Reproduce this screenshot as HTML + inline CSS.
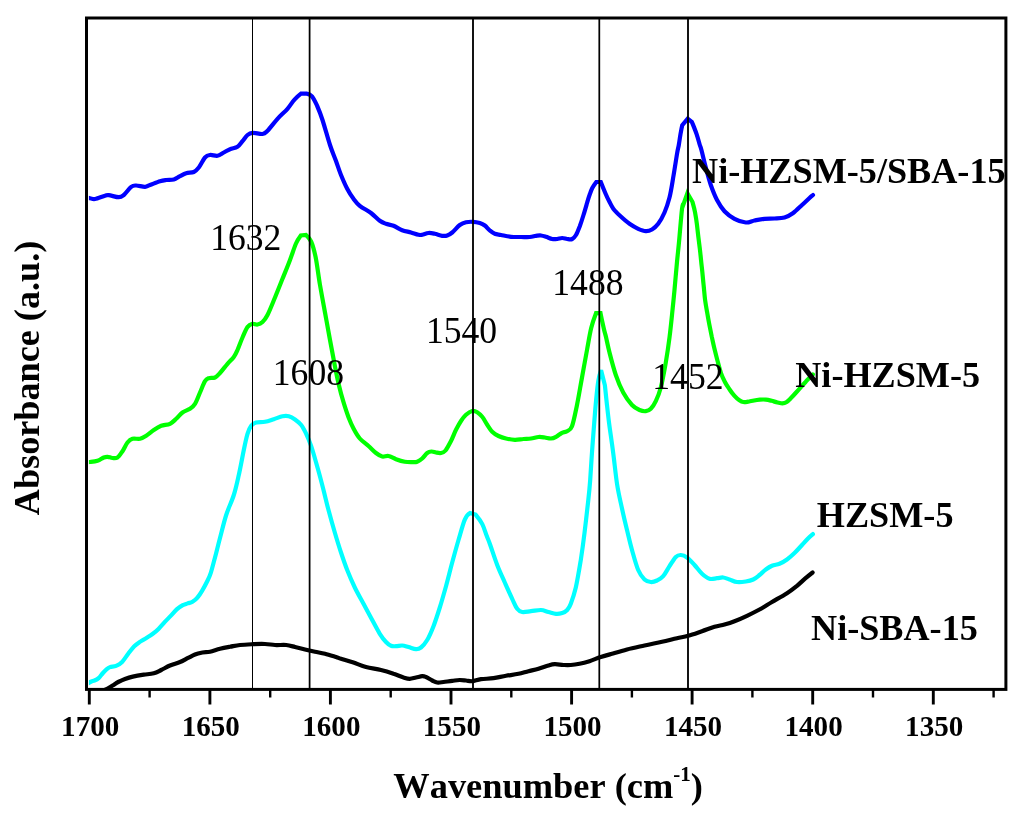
<!DOCTYPE html>
<html><head><meta charset="utf-8"><title>FTIR</title>
<style>
html,body{margin:0;padding:0;background:#fff;}
svg{display:block;will-change:transform;}
text{font-family:"Liberation Serif",serif;fill:#000;font-kerning:none;font-variant-ligatures:none;}
.b{font-weight:bold;}
</style></head><body>
<svg width="1024" height="824" viewBox="0 0 1024 824">
<rect width="1024" height="824" fill="#fff"/>
<defs><clipPath id="cp"><rect x="88.9" y="19.5" width="915.4" height="668.8"/></clipPath></defs>
<g clip-path="url(#cp)" fill="none" stroke-width="4.2" stroke-linecap="round" stroke-linejoin="miter" stroke-miterlimit="3.4">
<path stroke="#000" d="M101.0 692.0C102.2 691.3 106.5 689.1 108.5 688.0C110.5 686.9 111.4 686.3 113.0 685.3C114.6 684.3 116.2 683.0 118.2 682.0C120.2 681.0 122.6 679.9 125.0 679.0C127.4 678.1 129.7 677.3 132.8 676.6C135.9 675.9 140.3 675.2 143.8 674.7C147.3 674.2 150.9 674.1 153.8 673.3C156.7 672.5 158.5 671.3 161.2 670.0C163.9 668.7 166.9 666.8 170.0 665.5C173.1 664.2 177.1 663.2 180.0 662.0C182.9 660.8 185.0 659.5 187.5 658.2C190.0 657.0 192.5 655.5 195.0 654.5C197.5 653.5 200.0 653.0 202.5 652.5C205.0 652.0 207.1 652.4 210.0 651.8C212.9 651.2 216.7 649.6 220.0 648.8C223.3 648.0 226.7 647.4 230.0 646.8C233.3 646.2 236.2 645.4 240.0 645.0C243.8 644.6 248.3 644.4 252.5 644.2C256.7 644.0 261.2 643.9 265.0 644.0C268.8 644.1 271.5 644.8 275.0 645.0C278.5 645.2 282.9 644.7 286.2 645.0C289.5 645.3 291.9 646.2 295.0 647.0C298.1 647.8 301.7 648.7 305.0 649.5C308.3 650.3 311.7 651.1 315.0 651.8C318.3 652.5 321.5 652.9 325.0 653.8C328.5 654.7 333.3 656.2 336.0 657.0C338.7 657.8 338.1 657.9 341.0 658.8C343.9 659.7 349.3 661.1 353.5 662.5C357.7 663.9 361.4 665.8 366.0 667.0C370.6 668.2 376.4 668.9 381.0 670.0C385.6 671.1 389.8 672.5 393.5 673.8C397.2 675.0 400.8 676.7 403.5 677.5C406.2 678.3 407.7 678.8 409.8 678.8C411.9 678.8 413.9 677.9 416.0 677.5C418.1 677.1 420.5 676.3 422.2 676.2C423.9 676.1 424.3 676.3 426.0 677.0C427.7 677.7 430.3 679.6 432.2 680.5C434.1 681.4 435.3 682.2 437.2 682.5C439.1 682.8 441.0 682.3 443.5 682.0C446.0 681.7 449.5 681.1 452.2 680.8C454.9 680.5 457.5 680.0 459.8 680.0C462.1 680.0 463.9 680.3 466.0 680.5C468.1 680.7 469.7 681.4 472.2 681.2C474.7 681.0 477.4 679.7 481.0 679.2C484.6 678.7 489.3 678.8 493.5 678.2C497.7 677.6 501.8 676.5 506.0 675.8C510.2 675.1 514.8 674.6 518.5 673.8C522.2 673.0 525.2 672.0 528.5 671.2C531.8 670.4 535.2 669.8 538.5 668.8C541.8 667.8 545.8 666.3 548.5 665.5C551.2 664.7 552.3 664.3 554.8 664.2C557.3 664.1 560.8 664.9 563.5 665.0C566.2 665.1 568.1 665.2 570.8 665.0C573.5 664.8 576.4 664.4 579.5 663.8C582.6 663.2 586.0 662.3 589.5 661.2C593.0 660.1 597.0 658.2 600.8 657.0C604.5 655.8 607.6 655.0 612.0 653.8C616.4 652.5 621.6 650.9 627.0 649.5C632.4 648.1 638.7 646.8 644.5 645.5C650.3 644.2 656.6 643.0 662.0 641.8C667.4 640.6 672.6 639.2 677.0 638.2C681.4 637.2 684.0 637.0 688.2 635.8C692.4 634.6 697.6 632.7 702.0 631.2C706.4 629.7 710.8 627.9 714.5 626.8C718.2 625.7 721.2 625.4 724.5 624.5C727.8 623.6 730.8 622.7 734.5 621.2C738.2 619.8 742.8 617.8 747.0 615.8C751.2 613.8 755.3 611.8 759.5 609.5C763.7 607.2 767.4 604.7 772.0 602.0C776.6 599.3 782.8 595.9 787.0 593.2C791.2 590.5 794.0 588.2 797.0 585.8C800.0 583.4 802.4 580.9 805.0 578.7C807.6 576.5 811.3 573.5 812.6 572.5"/>
<path stroke="#00ffff" d="M85.0 685.0C85.9 684.5 88.7 682.8 90.3 682.0C91.9 681.2 93.1 681.1 94.5 680.5C95.9 679.9 97.3 679.3 98.6 678.1C99.9 676.9 101.2 675.0 102.5 673.5C103.8 672.0 105.2 670.4 106.5 669.3C107.8 668.2 108.4 667.7 110.0 667.1C111.6 666.5 114.1 666.8 116.1 665.9C118.1 665.0 120.1 663.9 122.1 661.9C124.1 659.9 126.2 656.3 128.2 653.7C130.2 651.1 132.3 648.2 134.3 646.2C136.3 644.2 138.3 643.0 140.3 641.6C142.3 640.2 144.4 639.3 146.4 638.0C148.4 636.7 150.5 635.5 152.5 634.0C154.5 632.5 156.5 630.9 158.5 628.9C160.5 626.9 162.6 624.4 164.6 622.2C166.6 620.0 168.7 618.0 170.7 615.9C172.7 613.8 174.7 611.2 176.7 609.4C178.7 607.6 181.0 606.2 182.8 605.2C184.6 604.2 186.1 604.0 187.7 603.4C189.3 602.8 190.9 602.8 192.5 601.8C194.1 600.8 195.8 599.6 197.4 597.7C199.0 595.8 200.6 593.3 202.2 590.6C203.8 587.9 205.7 584.4 207.1 581.5C208.5 578.6 209.4 577.2 210.7 573.2C212.0 569.2 213.4 563.4 215.0 557.5C216.6 551.6 218.1 545.1 220.0 538.0C221.9 530.9 223.9 522.2 226.2 515.0C228.5 507.8 231.7 501.7 233.8 495.0C235.9 488.3 237.1 482.5 238.8 475.0C240.5 467.5 242.4 456.9 243.8 450.0C245.2 443.1 246.3 437.8 247.5 433.8C248.7 429.8 249.8 427.7 251.2 425.8C252.6 423.9 253.9 423.2 256.2 422.5C258.5 421.8 262.1 422.4 265.0 421.8C267.9 421.2 270.9 420.1 273.8 419.2C276.7 418.3 280.0 416.7 282.5 416.2C285.0 415.7 286.7 415.6 288.8 416.2C290.9 416.8 292.9 418.0 295.0 419.5C297.1 421.0 299.3 422.6 301.2 425.0C303.1 427.4 304.5 430.3 306.2 433.8C307.9 437.3 309.3 440.6 311.2 446.2C313.1 451.8 315.4 460.2 317.5 467.5C319.6 474.8 321.7 482.9 323.5 490.0C325.3 497.1 326.6 502.9 328.5 510.0C330.4 517.1 332.7 525.4 334.8 532.5C336.9 539.6 338.9 546.2 341.0 552.5C343.1 558.8 344.9 564.2 347.2 570.0C349.5 575.8 352.1 581.9 354.8 587.5C357.5 593.1 360.6 598.4 363.5 603.8C366.4 609.2 369.5 615.0 372.2 620.0C374.9 625.0 377.5 630.1 379.8 633.8C382.1 637.5 384.1 640.0 386.0 642.0C387.9 644.0 389.3 645.1 391.0 645.8C392.7 646.5 394.1 646.2 396.0 646.2C397.9 646.2 400.1 645.4 402.2 645.5C404.3 645.6 406.2 646.4 408.5 647.0C410.8 647.6 413.9 649.1 416.0 649.2C418.1 649.3 419.1 649.0 421.0 647.5C422.9 646.0 425.1 643.5 427.2 640.0C429.3 636.5 431.4 631.6 433.5 626.2C435.6 620.8 437.7 614.2 439.8 607.5C441.9 600.8 443.9 593.7 446.0 586.2C448.1 578.7 450.1 570.2 452.2 562.5C454.3 554.8 456.4 547.1 458.5 540.0C460.6 532.9 462.9 524.1 464.8 519.6C466.7 515.1 469.0 513.6 470.0 513.0L475.6 514.6C477.1 516.4 480.5 520.6 482.3 524.1C484.1 527.6 485.4 532.5 486.7 535.8C487.9 539.1 488.1 538.9 489.8 543.8C491.6 548.7 494.7 558.5 497.2 565.0C499.7 571.5 502.3 576.9 504.8 582.5C507.3 588.1 510.1 594.4 512.2 598.8C514.3 603.2 515.5 606.6 517.2 608.8C518.9 611.0 519.9 611.6 522.2 612.0C524.5 612.4 527.9 611.5 531.0 611.2C534.1 610.9 538.1 609.9 541.0 610.0C543.9 610.1 546.0 611.4 548.5 612.0C551.0 612.6 553.7 613.6 556.0 613.8C558.3 614.0 560.3 613.6 562.2 613.0C564.1 612.4 565.8 611.5 567.2 610.0C568.6 608.5 569.4 607.5 570.8 603.8C572.2 600.0 574.1 594.8 575.8 587.5C577.5 580.2 579.3 569.1 580.8 560.0C582.2 550.9 583.3 542.8 584.5 533.0C585.7 523.2 587.2 509.8 588.2 501.0C589.2 492.2 589.6 488.1 590.2 480.0C590.8 471.9 591.3 461.8 592.0 452.3C592.7 442.8 593.5 431.7 594.2 423.2C594.9 414.7 595.3 408.4 596.0 401.4C596.7 394.4 597.4 386.2 598.3 381.0C599.1 375.8 600.5 371.9 601.1 370.2L604.9 385.3C605.2 388.2 605.9 395.1 606.6 401.4C607.3 407.7 608.0 414.7 609.1 423.2C610.2 431.7 611.8 442.0 613.1 452.3C614.5 462.6 615.7 475.6 617.2 485.0C618.7 494.4 620.4 501.0 622.0 508.5C623.6 516.0 625.3 523.1 627.0 530.0C628.7 536.9 630.1 543.3 632.0 550.0C633.9 556.7 636.1 565.1 638.2 570.0C640.3 574.9 642.4 577.5 644.5 579.5C646.6 581.5 648.7 581.8 650.8 582.0C652.9 582.2 654.9 581.5 657.0 580.5C659.1 579.5 661.1 578.6 663.2 576.2C665.3 573.8 667.4 569.4 669.5 566.2C671.6 563.0 673.9 558.9 675.8 557.0C677.7 555.1 678.9 554.9 680.8 555.0C682.7 555.1 684.7 555.8 687.0 557.5C689.3 559.2 692.0 562.3 694.5 565.0C697.0 567.7 699.5 571.5 702.0 573.8C704.5 576.1 707.0 578.1 709.5 578.8C712.0 579.5 714.7 578.4 717.0 578.2C719.3 578.0 721.1 577.3 723.2 577.5C725.3 577.7 727.2 578.8 729.5 579.5C731.8 580.2 734.3 581.7 737.0 582.0C739.7 582.3 743.1 581.9 745.8 581.5C748.5 581.1 750.9 580.6 753.2 579.5C755.5 578.4 757.4 576.7 759.5 575.0C761.6 573.3 763.7 571.0 765.8 569.5C767.9 568.0 769.7 566.8 772.0 565.8C774.3 564.8 777.0 564.8 779.5 563.8C782.0 562.8 784.5 561.3 787.0 559.5C789.5 557.7 792.0 555.4 794.5 553.0C797.0 550.6 799.8 547.4 802.0 545.0C804.2 542.6 806.2 540.3 808.0 538.5C809.8 536.7 812.1 534.8 812.9 534.1"/>
<path stroke="#00ff00" d="M85.0 462.3C85.8 462.2 87.9 462.2 90.0 462.0C92.1 461.8 95.2 461.6 97.5 460.8C99.8 460.1 102.1 458.2 103.8 457.5C105.5 456.8 106.0 456.7 107.5 456.8C109.0 456.9 110.8 457.9 112.5 458.0C114.2 458.1 115.8 458.6 117.5 457.5C119.2 456.4 120.8 453.7 122.5 451.2C124.2 448.7 125.8 444.6 127.5 442.5C129.2 440.4 130.4 439.4 132.5 438.8C134.6 438.2 137.7 439.3 140.0 438.8C142.3 438.3 143.9 437.3 146.2 435.8C148.5 434.3 151.3 431.7 153.8 430.0C156.3 428.3 158.5 426.8 161.2 425.8C163.9 424.8 167.5 425.0 170.0 423.8C172.5 422.6 174.1 420.7 176.2 418.8C178.3 416.9 180.2 414.2 182.5 412.5C184.8 410.8 187.9 410.2 190.0 408.8C192.1 407.4 193.3 406.5 195.0 403.8C196.7 401.1 198.3 396.3 200.0 392.5C201.7 388.7 203.5 383.6 205.0 381.2C206.5 378.8 207.1 378.8 208.8 378.2C210.5 377.6 213.1 378.4 215.0 377.5C216.9 376.6 217.9 375.3 220.0 373.0C222.1 370.7 225.2 366.5 227.5 363.8C229.8 361.1 232.1 359.3 233.8 357.0C235.5 354.7 236.1 353.2 237.5 350.0C238.9 346.8 240.8 341.3 242.5 337.5C244.2 333.7 245.8 329.3 247.5 327.0C249.2 324.7 250.8 324.2 252.5 323.8C254.2 323.4 255.8 324.8 257.5 324.5C259.2 324.2 260.8 323.6 262.5 322.0C264.2 320.4 265.4 319.1 267.5 315.0C269.6 310.9 272.5 303.5 275.0 297.5C277.5 291.5 280.0 285.1 282.5 278.8C285.0 272.6 287.8 265.9 290.0 260.0C292.2 254.1 294.2 247.6 296.0 243.5C297.8 239.4 299.9 236.7 300.8 235.5L306.0 235.0C307.1 235.9 309.6 237.9 311.2 241.6C312.8 245.3 314.1 249.8 315.6 257.0C317.1 264.2 318.4 275.8 320.0 285.0C321.6 294.2 323.3 303.3 325.0 312.5C326.7 321.7 328.4 331.4 330.0 340.0C331.6 348.6 333.1 356.8 334.5 364.0C335.9 371.2 337.0 377.1 338.5 383.5C340.0 389.9 341.8 396.6 343.5 402.2C345.2 407.8 346.8 412.8 348.5 417.2C350.2 421.6 351.6 424.9 353.5 428.5C355.4 432.1 357.3 435.6 359.8 438.5C362.3 441.4 365.8 443.6 368.5 446.0C371.2 448.4 373.7 451.2 376.0 453.0C378.3 454.8 380.1 456.0 382.2 456.5C384.3 457.0 386.2 455.6 388.5 456.0C390.8 456.4 393.3 458.2 396.0 459.2C398.7 460.2 402.1 461.3 404.8 461.8C407.5 462.3 410.1 462.2 412.2 462.2C414.3 462.2 415.5 462.4 417.2 461.8C418.9 461.2 420.5 460.0 422.2 458.5C423.9 457.0 425.6 454.2 427.2 453.0C428.8 451.8 430.0 451.6 431.5 451.5C433.0 451.4 434.4 452.2 436.0 452.5C437.6 452.8 439.4 453.3 441.0 453.0C442.6 452.7 443.8 452.5 445.5 450.5C447.2 448.5 449.2 444.4 451.0 441.0C452.8 437.6 454.3 433.1 456.0 429.8C457.7 426.5 459.3 423.5 461.0 421.0C462.7 418.5 464.1 416.5 466.0 414.8C467.9 413.1 470.3 411.4 472.2 411.0C474.1 410.6 475.5 411.2 477.2 412.2C478.9 413.2 480.5 414.7 482.2 416.8C483.9 418.9 485.5 422.3 487.2 424.8C488.9 427.3 490.3 429.9 492.2 431.8C494.1 433.7 496.2 434.9 498.5 436.0C500.8 437.1 503.3 437.9 506.0 438.5C508.7 439.1 511.9 439.7 514.8 439.8C517.7 439.9 520.8 439.2 523.5 439.0C526.2 438.8 528.5 438.8 531.0 438.5C533.5 438.2 536.2 437.2 538.5 437.0C540.8 436.8 542.7 437.2 544.8 437.5C546.9 437.8 549.1 438.6 551.0 438.5C552.9 438.4 554.2 437.8 556.0 436.8C557.8 435.9 560.2 433.7 562.0 432.8C563.8 431.9 565.3 432.3 567.0 431.2C568.7 430.1 570.3 430.6 572.0 426.2C573.7 421.8 575.3 413.1 577.0 405.0C578.7 396.9 580.3 386.7 582.0 377.5C583.7 368.3 585.5 358.2 587.0 350.0C588.5 341.8 589.7 334.1 591.2 328.0C592.7 321.9 595.0 315.8 596.0 313.2L600.5 313.2C601.2 316.8 603.0 325.0 603.9 329.0C604.8 333.0 605.1 333.1 606.0 337.0C606.9 340.9 607.9 346.2 609.5 352.5C611.1 358.8 613.5 368.3 615.8 375.0C618.1 381.7 620.5 387.5 623.2 392.5C625.9 397.5 629.3 402.1 632.0 405.0C634.7 407.9 637.2 409.0 639.5 410.0C641.8 411.0 643.9 411.4 645.8 411.2C647.7 411.0 649.1 410.5 650.8 408.8C652.5 407.1 654.1 404.8 655.8 401.2C657.5 397.6 659.1 393.9 660.8 387.5C662.5 381.1 664.3 370.8 665.8 362.5C667.2 354.2 668.5 345.4 669.5 337.5C670.5 329.6 671.2 322.9 672.0 315.0C672.8 307.1 673.7 298.8 674.5 290.0C675.3 281.2 676.2 270.3 677.0 262.0C677.8 253.7 678.4 248.8 679.2 240.0C680.0 231.2 681.3 214.9 682.0 209.0C682.7 203.1 683.2 204.1 683.4 204.5L687.4 193.2L692.5 202.0C693.0 203.9 694.3 208.4 695.0 212.1C695.7 215.8 696.4 220.2 696.9 224.3C697.4 228.4 697.8 232.4 698.3 236.4C698.8 240.4 699.3 244.4 699.8 248.5C700.3 252.6 700.7 256.6 701.1 260.7C701.5 264.8 702.0 268.8 702.4 272.8C702.8 276.9 703.1 280.5 703.6 285.0C704.1 289.5 704.5 295.5 705.1 300.0C705.7 304.5 706.4 308.1 707.1 312.1C707.8 316.2 708.5 320.2 709.3 324.3C710.1 328.4 710.9 332.4 711.7 336.4C712.6 340.4 713.4 344.4 714.4 348.5C715.4 352.6 716.4 356.6 717.5 360.7C718.6 364.8 719.7 369.4 720.9 372.9C722.1 376.4 723.3 378.9 724.8 381.7C726.2 384.5 728.0 387.1 729.6 389.5C731.2 391.9 732.9 394.1 734.5 395.9C736.1 397.7 737.9 399.3 739.4 400.3C740.9 401.3 741.8 401.8 743.3 402.0C744.8 402.2 746.4 401.9 748.2 401.7C750.0 401.4 752.2 400.9 754.1 400.5C756.0 400.1 758.0 399.8 759.9 399.6C761.8 399.5 763.8 399.4 765.8 399.6C767.8 399.8 769.6 400.3 771.6 400.8C773.6 401.3 775.7 402.1 777.5 402.5C779.3 402.9 780.9 403.4 782.4 403.4C783.9 403.3 784.8 403.1 786.3 402.2C787.8 401.3 789.6 399.4 791.2 397.8C792.8 396.2 794.5 394.3 796.1 392.5C797.7 390.7 799.3 388.9 800.9 387.1C802.5 385.3 804.2 383.4 805.8 381.7C807.3 380.0 809.0 378.4 810.2 377.2C811.4 376.0 812.5 374.9 812.9 374.4"/>
<path stroke="#0000ff" d="M85.0 197.3C85.8 197.5 88.3 197.9 90.0 198.2C91.7 198.5 92.5 199.4 95.0 199.0C97.5 198.6 102.7 196.4 105.0 195.8C107.3 195.2 106.5 195.0 108.8 195.2C111.1 195.4 116.3 197.2 118.8 197.2C121.3 197.2 121.7 196.7 123.8 195.0C125.9 193.3 129.1 188.4 131.2 186.8C133.3 185.2 133.9 185.5 136.2 185.5C138.5 185.5 142.7 186.9 145.0 186.8C147.3 186.7 147.5 185.9 150.0 185.0C152.5 184.1 157.3 182.0 160.0 181.2C162.7 180.4 163.9 180.3 166.2 180.0C168.5 179.7 171.5 180.1 173.8 179.5C176.1 178.9 177.9 177.2 180.0 176.2C182.1 175.1 183.9 173.9 186.2 173.2C188.5 172.5 191.7 172.9 193.8 172.0C195.9 171.1 196.9 169.9 198.8 167.5C200.7 165.1 203.1 159.6 205.0 157.5C206.9 155.4 207.9 155.3 210.0 155.0C212.1 154.7 215.2 156.2 217.5 155.8C219.8 155.4 221.7 153.6 223.8 152.5C225.9 151.4 227.7 150.1 230.0 149.2C232.3 148.2 235.4 148.1 237.5 146.8C239.6 145.5 240.8 143.2 242.5 141.2C244.2 139.2 245.8 136.4 247.5 135.0C249.2 133.6 250.0 133.0 252.5 132.8C255.0 132.6 260.0 134.3 262.5 134.0C265.0 133.7 265.0 133.3 267.5 130.8C270.0 128.3 274.2 122.5 277.5 118.8C280.8 115.1 284.7 112.0 287.5 108.8C290.3 105.6 292.2 102.1 294.5 99.6C296.8 97.1 299.7 94.6 301.0 93.6L306.6 93.6C307.7 93.8 310.2 94.3 312.0 96.4C313.8 98.5 315.4 102.1 317.2 106.0C318.9 109.9 320.4 113.5 322.5 120.0C324.6 126.5 327.8 138.2 330.0 145.0C332.2 151.8 334.2 156.0 336.0 161.0C337.8 166.0 339.1 170.4 341.0 175.0C342.9 179.6 345.1 184.8 347.2 188.8C349.3 192.8 351.4 196.0 353.5 198.8C355.6 201.6 356.9 203.4 359.8 205.8C362.7 208.2 367.7 210.5 371.0 213.0C374.3 215.5 377.3 219.0 379.8 220.8C382.3 222.6 383.7 223.0 386.0 223.8C388.3 224.6 390.8 224.7 393.5 225.8C396.2 226.9 399.3 229.1 402.2 230.2C405.1 231.3 408.3 231.7 411.0 232.5C413.7 233.3 416.6 234.4 418.5 234.8C420.4 235.2 420.5 235.1 422.2 234.8C423.9 234.5 426.4 233.2 428.5 233.0C430.6 232.8 432.5 233.3 434.8 233.8C437.1 234.3 440.1 235.5 442.2 235.8C444.3 236.1 445.5 236.1 447.2 235.5C448.9 234.9 450.1 234.2 452.2 232.5C454.3 230.8 457.5 226.7 459.8 225.0C462.1 223.3 463.8 222.7 466.0 222.2C468.2 221.7 470.7 221.7 473.0 221.8C475.3 221.9 477.8 222.4 479.8 223.0C481.8 223.6 483.1 224.2 484.8 225.5C486.5 226.8 488.1 229.1 489.8 230.5C491.5 231.9 492.9 233.1 494.8 233.8C496.7 234.6 498.3 234.5 501.0 235.0C503.7 235.5 507.7 236.5 511.0 236.8C514.3 237.1 517.9 237.0 521.0 237.0C524.1 237.0 527.3 237.2 529.8 237.0C532.3 236.8 534.1 236.1 536.0 235.8C537.9 235.6 539.3 235.3 541.0 235.5C542.7 235.7 544.1 236.2 546.0 236.8C547.9 237.4 550.3 238.6 552.2 239.0C554.1 239.4 555.5 239.2 557.2 239.0C558.9 238.8 560.5 238.0 562.2 238.0C563.9 238.0 565.5 238.8 567.2 239.0C568.9 239.2 570.7 239.7 572.2 239.0C573.7 238.3 574.7 237.1 576.0 235.0C577.3 232.9 578.5 229.5 579.8 226.2C581.0 222.9 582.3 218.9 583.5 215.0C584.7 211.1 586.2 205.9 587.2 202.5C588.2 199.1 588.9 196.7 589.8 194.3C590.6 191.9 591.2 190.1 592.3 188.0C593.4 185.9 595.4 183.2 596.3 182.0L600.8 182.0C601.8 184.5 604.1 190.2 605.5 193.5C606.9 196.8 608.0 199.0 609.3 201.5C610.6 204.0 611.5 206.3 613.3 208.7C615.1 211.1 617.6 213.5 620.3 216.0C623.0 218.5 626.5 221.7 629.5 223.8C632.5 225.9 635.5 227.6 638.2 228.8C640.9 230.0 643.5 231.1 645.8 231.2C648.1 231.3 649.9 230.7 652.0 229.5C654.1 228.3 656.1 226.6 658.2 223.8C660.3 221.0 662.6 216.9 664.5 212.5C666.4 208.1 668.0 203.3 669.5 197.5C671.0 191.7 672.0 184.8 673.2 177.5C674.5 170.2 676.1 159.4 677.0 154.0C677.9 148.6 678.2 148.3 678.8 145.0C679.4 141.7 679.9 137.4 680.5 134.1C681.1 130.8 681.9 126.8 682.3 125.1L687.7 118.6L691.9 122.0C692.9 124.5 695.3 130.3 696.6 134.1C697.9 137.9 699.0 142.4 699.8 145.0C700.6 147.6 700.3 145.8 701.3 149.5C702.3 153.2 704.2 161.6 705.8 167.5C707.4 173.4 708.9 179.6 710.8 185.0C712.7 190.4 714.7 195.6 717.0 200.0C719.3 204.4 721.6 208.1 724.5 211.2C727.4 214.3 731.0 216.9 734.5 218.8C738.0 220.7 742.5 222.2 745.8 222.5C749.1 222.8 751.4 221.1 754.5 220.5C757.6 219.9 761.2 219.1 764.5 218.8C767.8 218.5 771.2 218.7 774.5 218.5C777.8 218.3 781.4 218.4 784.5 217.5C787.6 216.6 790.3 215.1 793.2 213.0C796.1 210.9 799.3 207.5 802.0 205.0C804.7 202.5 807.7 199.7 809.5 198.0C811.3 196.3 812.4 195.5 813.0 195.0"/>
</g>
<g stroke="#000"><line x1="252.5" y1="19" x2="252.5" y2="688" stroke-width="1.00"/><line x1="309.6" y1="19" x2="309.6" y2="688" stroke-width="1.75"/><line x1="473.0" y1="19" x2="473.0" y2="688" stroke-width="1.85"/><line x1="599.3" y1="19" x2="599.3" y2="688" stroke-width="1.75"/><line x1="688.0" y1="19" x2="688.0" y2="688" stroke-width="1.85"/></g>
<rect x="86.5" y="18" width="919.4" height="671.4" fill="none" stroke="#000" stroke-width="3"/>
<g stroke="#000" stroke-linecap="butt"><line x1="89.3" y1="690" x2="89.3" y2="704.5" stroke-width="2.9"/><line x1="149.6" y1="690" x2="149.6" y2="697.5" stroke-width="2.4"/><line x1="209.9" y1="690" x2="209.9" y2="704.5" stroke-width="2.9"/><line x1="270.2" y1="690" x2="270.2" y2="697.5" stroke-width="2.4"/><line x1="330.4" y1="690" x2="330.4" y2="704.5" stroke-width="2.9"/><line x1="390.7" y1="690" x2="390.7" y2="697.5" stroke-width="2.4"/><line x1="451.0" y1="690" x2="451.0" y2="704.5" stroke-width="2.9"/><line x1="511.3" y1="690" x2="511.3" y2="697.5" stroke-width="2.4"/><line x1="571.6" y1="690" x2="571.6" y2="704.5" stroke-width="2.9"/><line x1="631.9" y1="690" x2="631.9" y2="697.5" stroke-width="2.4"/><line x1="692.1" y1="690" x2="692.1" y2="704.5" stroke-width="2.9"/><line x1="752.4" y1="690" x2="752.4" y2="697.5" stroke-width="2.4"/><line x1="812.7" y1="690" x2="812.7" y2="704.5" stroke-width="2.9"/><line x1="873.0" y1="690" x2="873.0" y2="697.5" stroke-width="2.4"/><line x1="933.3" y1="690" x2="933.3" y2="704.5" stroke-width="2.9"/><line x1="993.6" y1="690" x2="993.6" y2="697.5" stroke-width="2.4"/></g>
<text class="b" font-size="29.10" text-anchor="middle" transform="translate(90.20,735.70) scale(1,1.030)">1700</text><text class="b" font-size="29.10" text-anchor="middle" transform="translate(210.77,735.70) scale(1,1.030)">1650</text><text class="b" font-size="29.10" text-anchor="middle" transform="translate(331.34,735.70) scale(1,1.030)">1600</text><text class="b" font-size="29.10" text-anchor="middle" transform="translate(451.91,735.70) scale(1,1.030)">1550</text><text class="b" font-size="29.10" text-anchor="middle" transform="translate(572.48,735.70) scale(1,1.030)">1500</text><text class="b" font-size="29.10" text-anchor="middle" transform="translate(693.05,735.70) scale(1,1.030)">1450</text><text class="b" font-size="29.10" text-anchor="middle" transform="translate(813.62,735.70) scale(1,1.030)">1400</text><text class="b" font-size="29.10" text-anchor="middle" transform="translate(934.19,735.70) scale(1,1.030)">1350</text>
<text class="" font-size="35.60" text-anchor="start" transform="translate(210.20,250.40) scale(1,1.040)">1632</text><text class="" font-size="35.60" text-anchor="start" transform="translate(272.80,385.20) scale(1,1.040)">1608</text><text class="" font-size="35.60" text-anchor="start" transform="translate(425.90,343.10) scale(1,1.040)">1540</text><text class="" font-size="35.60" text-anchor="start" transform="translate(552.30,295.20) scale(1,1.040)">1488</text><text class="" font-size="35.60" text-anchor="start" transform="translate(652.30,388.90) scale(1,1.040)">1452</text>
<text class="b" font-size="36.20" text-anchor="start" transform="translate(692.00,182.90) scale(1,0.990)">Ni-HZSM-5/SBA-15</text><text class="b" font-size="36.20" text-anchor="start" transform="translate(795.20,387.00) scale(1,0.990)">Ni-HZSM-5</text><text class="b" font-size="36.20" text-anchor="start" transform="translate(816.80,527.30) scale(1,0.990)">HZSM-5</text><text class="b" font-size="36.20" text-anchor="start" transform="translate(811.00,640.00) scale(1,0.990)">Ni-SBA-15</text>
<g transform="translate(393.3,798.3) scale(1,1.000)"><text class="b" font-size="36.40">Wavenumber (cm<tspan font-size="21" dy="-17.5">-1</tspan><tspan dy="17.5">)</tspan></text></g>
<g transform="translate(38.5,515.2) rotate(-90) scale(1,1.015)"><text class="b" font-size="36.20">Absorbance (a.u.)</text></g>
</svg>
</body></html>
